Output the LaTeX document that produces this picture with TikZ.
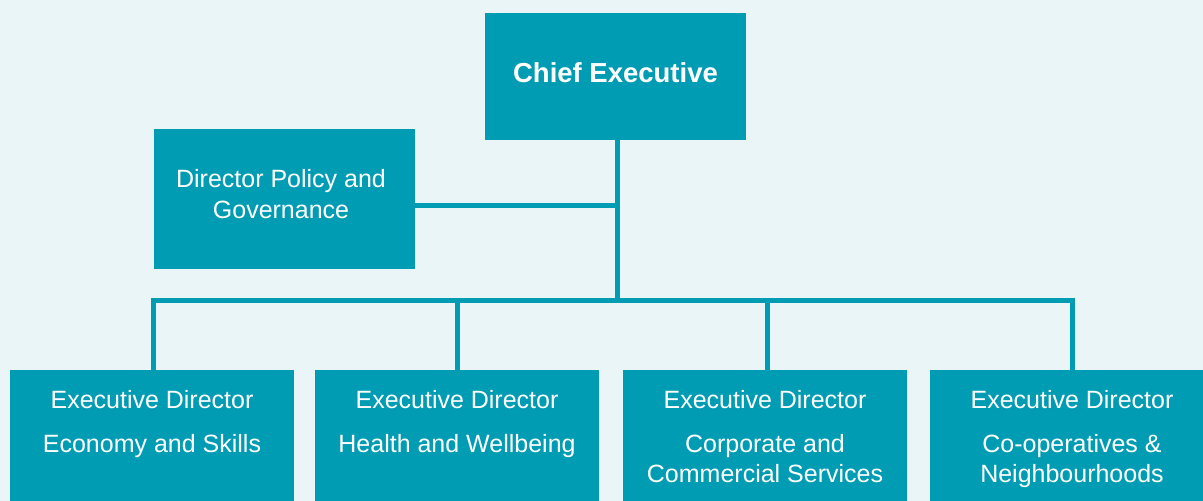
\documentclass[tikz,border=0pt]{standalone}
\usepackage{fontspec}
\setmainfont{Liberation Sans}
\definecolor{teal}{HTML}{009CB3}
\definecolor{bgc}{HTML}{EAF5F8}
\begin{document}
\begin{tikzpicture}[x=1pt,y=-1pt,
  box/.style={fill=teal,draw=none,inner sep=0pt},
  txt/.style={text=white,inner sep=0pt,anchor=base,font=\fontsize{25}{30}\selectfont},
  btxt/.style={text=white,inner sep=0pt,anchor=base,font=\fontsize{27.5}{32}\selectfont\bfseries},
  conn/.style={draw=teal,line width=5pt,line join=miter}]
\path[use as bounding box,fill=bgc] (0,0) rectangle (1203,501);
% boxes
\node[box,minimum width=261pt,minimum height=127pt] (chief) at (615.5,76.5) {};
\node[box,minimum width=261pt,minimum height=140pt] (pol) at (284.5,199) {};
\node[box,minimum width=284pt,minimum height=131pt] (b1) at (152,435.5) {};
\node[box,minimum width=284pt,minimum height=131pt] (b2) at (457,435.5) {};
\node[box,minimum width=284pt,minimum height=131pt] (b3) at (765,435.5) {};
\node[box,minimum width=273pt,minimum height=131pt] (b4) at (1066.5,435.5) {};
% texts
\node[btxt] (chieft) at (615.5,82) {Chief Executive};
\node[txt] (polt1) at (281,187) {Director Policy and};
\node[txt] (polt2) at (281,218) {Governance};
\node[txt] (b1a) at (152,408) {Executive Director};
\node[txt] (b1b) at (152,452) {Economy and Skills};
\node[txt] (b2a) at (457,408) {Executive Director};
\node[txt] (b2b) at (457,452) {Health and Wellbeing};
\node[txt] (b3a) at (765,408) {Executive Director};
\node[txt] (b3b) at (765,452) {Corporate and};
\node[txt] (b3c) at (765,482) {Commercial Services};
\node[txt] (b4a) at (1072,408) {Executive Director};
\node[txt] (b4b) at (1072,452) {Co-operatives \&};
\node[txt] (b4c) at (1072,482) {Neighbourhoods};
% connector points
\coordinate (top) at (617,140);
\coordinate (j1) at (617,205);
\coordinate (jb) at (617,300.5);
\coordinate (d1) at (153.5,300.5);
\coordinate (d2) at (457,300.5);
\coordinate (d3) at (767,300.5);
\coordinate (d4) at (1072,300.5);
% connectors
\draw[conn] (top) -- (jb);
\draw[conn] (pol.east |- j1) -- (j1);
\draw[conn] (d1 |- b1.north) -- (d1) -- (d4) -- (d4 |- b4.north);
\draw[conn] (d2) -- (d2 |- b2.north);
\draw[conn] (d3) -- (d3 |- b3.north);
\end{tikzpicture}
\end{document}
